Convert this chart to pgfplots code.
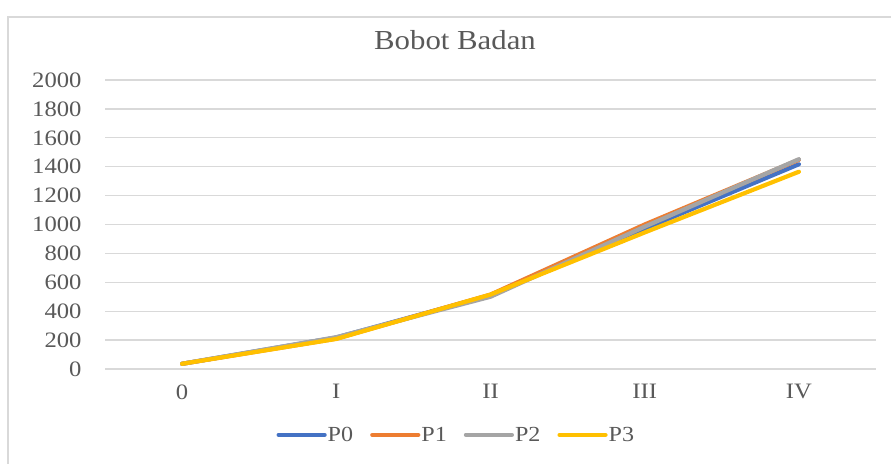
\documentclass[border=0pt]{standalone}
\usepackage{fontspec}
\setmainfont[FakeStretch=1.12]{Liberation Serif}
\usepackage{pgfplots}
\pgfplotsset{compat=1.18}
\definecolor{cP0}{HTML}{4472C4}
\definecolor{cP1}{HTML}{ED7D31}
\definecolor{cP2}{HTML}{A5A5A5}
\definecolor{cP3}{HTML}{FFC000}
\definecolor{txt}{HTML}{595959}
\definecolor{grd}{HTML}{D9D9D9}
\begin{document}
\begin{tikzpicture}
\useasboundingbox (0bp,0bp) rectangle (891bp,464bp);
\draw[grd, line width=1.5bp] (8bp,447bp) rectangle (902bp,-10bp);
\node[anchor=base, text=txt, font=\fontsize{27.5bp}{32bp}\selectfont, inner sep=0pt] at (455bp,414bp) {Bobot Badan};
\begin{axis}[
  at={(105bp,95bp)}, anchor=south west,
  scale only axis, width=771bp, height=289bp,
  xmin=-0.5, xmax=4.5, ymin=0, ymax=2000,
  xtick={0,1,2,3,4}, xticklabels={0,I,II,III,IV},
  ytick={0,200,...,2000},
  major tick length=0pt,
  axis line style={draw=none},
  ymajorgrids, grid style={grd, line width=1.3bp},
  tick label style={text=txt, font=\fontsize{22bp}{26bp}\selectfont},
  /pgf/number format/assume math mode=true,
  /pgf/number format/1000 sep={},
  yticklabel style={xshift=-20bp},
  xticklabel style={yshift=-12bp},
  legend style={at={(0.455,-0.228)}, anchor=center, draw=none, fill=none,
    legend columns=4, font=\fontsize{21.5bp}{25bp}\selectfont, text=txt,
    nodes={inner sep=1bp}},
  legend image code/.code={\draw[#1, line cap=round] (0bp,0bp) -- (46bp,0bp);},
  /tikz/every even column/.append style={column sep=16bp},
  every axis plot/.append style={line width=4.2bp, line join=round, line cap=round, mark=none},
]
\addplot[cP0] coordinates {(0,36) (1,218) (2,510) (3,970) (4,1417)};
\addlegendentry{P0}
\addplot[cP1] coordinates {(0,36) (1,210) (2,515) (3,1000) (4,1448)};
\addlegendentry{P1}
\addplot[cP2] coordinates {(0,36) (1,220) (2,500) (3,985) (4,1452)};
\addlegendentry{P2}
\addplot[cP3] coordinates {(0,36) (1,208) (2,515) (3,945) (4,1365)};
\addlegendentry{P3}
\end{axis}
\end{tikzpicture}
\end{document}
